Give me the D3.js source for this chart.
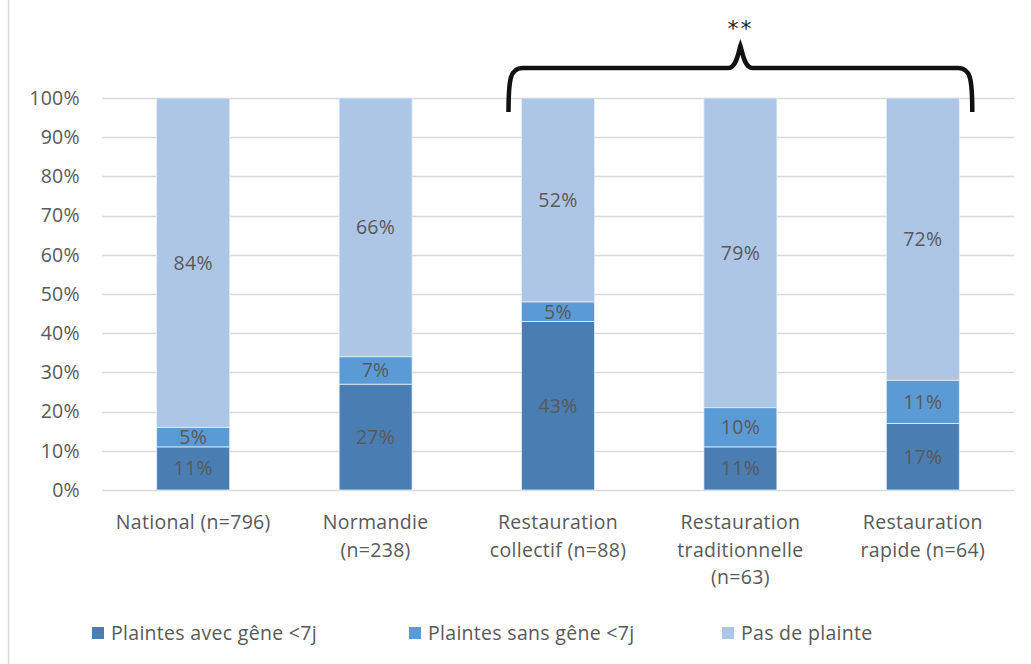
<!DOCTYPE html>
<html><head><meta charset="utf-8">
<script src="https://cdn.jsdelivr.net/npm/d3@7"></script>
<style>body{margin:0;background:#fff}svg{display:block}text{font-family:"Open Sans",sans-serif;letter-spacing:0.3px}</style>
</head><body><svg id="c" width="1031" height="664"></svg>
<script>
const categories = [
  ["National (n=796)"],
  ["Normandie", "(n=238)"],
  ["Restauration", "collectif (n=88)"],
  ["Restauration", "traditionnelle", "(n=63)"],
  ["Restauration", "rapide (n=64)"]
];
const seriesNames = ["Plaintes avec gêne <7j", "Plaintes sans gêne <7j", "Pas de plainte"];
const avecGene = [11, 27, 43, 11, 17];
const sansGene = [5, 7, 5, 10, 11];
const pasPlainte = [84, 66, 52, 79, 72];
const yTicks = [0, 10, 20, 30, 40, 50, 60, 70, 80, 90, 100];
const colors = ["#4a7db2", "#5b9bd5", "#adc6e5"];
const bracketFrom = 2, bracketTo = 4, bracketLabel = "**";

const FONT = "'Open Sans', sans-serif";
const FS = "19.5px";
const svg = d3.select("#c");
const W = 1031, H = 664;
const x = d3.scaleBand().domain(d3.range(categories.length)).range([102, 1014]).paddingInner(0.6).paddingOuter(0.3);
const y = d3.scaleLinear().domain([0, 100]).range([490, 98]);

// border
svg.append("line").attr("x1", 8.5).attr("x2", 8.5).attr("y1", 0).attr("y2", H).attr("stroke", "#d9d9d9").attr("stroke-width", 1.5);

// gridlines
svg.append("g").selectAll("line").data(yTicks).join("line")
  .attr("x1", 102).attr("x2", 1014).attr("y1", d => Math.round(y(d)) + 0.5).attr("y2", d => Math.round(y(d)) + 0.5)
  .attr("stroke", "#d9d9d9").attr("stroke-width", 1.3);

// y axis labels
const yAxis = d3.axisLeft(y).tickValues(yTicks).tickFormat(d => d + "%").tickSize(0).tickPadding(0);
const ga = svg.append("g").attr("transform", "translate(80,0)").call(yAxis);
ga.select(".domain").remove();
ga.selectAll("text").attr("fill", "#595959").style("font-size", FS).style("font-family", FONT);

// stacked data
const rows = categories.map((c, i) => ({i, a: avecGene[i], b: sansGene[i], c: pasPlainte[i]}));
const stack = d3.stack().keys(["a", "b", "c"])(rows);
const g = svg.append("g");
stack.forEach((layer, k) => {
  g.append("g").selectAll("rect").data(layer).join("rect")
    .attr("x", d => x(d.data.i)).attr("width", x.bandwidth())
    .attr("y", d => y(d[1])).attr("height", d => y(d[0]) - y(d[1]))
    .attr("fill", colors[k]).attr("stroke", "#e4ecf6").attr("stroke-width", 0.8);
  g.append("g").selectAll("text").data(layer).join("text")
    .attr("x", d => x(d.data.i) + x.bandwidth() / 2)
    .attr("y", d => y((d[0] + d[1]) / 2)).attr("dy", "0.36em")
    .attr("text-anchor", "middle").attr("fill", "#595959").style("font-size", FS)
    .text(d => (d[1] - d[0]) + "%");
});

// category labels
const cl = svg.append("g");
categories.forEach((lines, i) => {
  const t = cl.append("text").attr("text-anchor", "middle").attr("fill", "#595959").style("font-size", FS);
  lines.forEach((ln, j) => t.append("tspan").attr("x", x(i) + x.bandwidth() / 2).attr("y", 529 + j * 27.5).text(ln));
});

// legend
const legX = [92, 409, 722];
const lg = svg.append("g");
seriesNames.forEach((s, k) => {
  lg.append("rect").attr("x", legX[k]).attr("y", 627).attr("width", 12).attr("height", 12).attr("fill", colors[k]);
  lg.append("text").attr("x", legX[k] + 19).attr("y", 633).attr("dy", "0.36em").attr("fill", "#595959").style("font-size", FS).text(s);
});

// bracket
const xl = x(bracketFrom) - 13, xr = x(bracketTo) + x.bandwidth() + 13;
const xm = (x(bracketFrom + 1) + x.bandwidth() / 2);
const yt = 68, yb = 112, ytip = 46;
const path = d3.path();
path.moveTo(xl, yb);
path.bezierCurveTo(xl, yt + 10, xl + 2, yt, xl + 14, yt);
path.lineTo(xm - 12, yt);
path.bezierCurveTo(xm - 4, yt, xm - 2, ytip + 6, xm, ytip);
path.bezierCurveTo(xm + 2, ytip + 6, xm + 4, yt, xm + 12, yt);
path.lineTo(xr - 14, yt);
path.bezierCurveTo(xr - 2, yt, xr, yt + 10, xr, yb);
svg.append("path").attr("d", path.toString()).attr("fill", "none").attr("stroke", "#111").attr("stroke-width", 4.5);
svg.append("text").attr("x", xm).attr("y", 36).attr("text-anchor", "middle").attr("fill", "#222")
  .style("font-family", "'DejaVu Sans', sans-serif").style("font-size", "22px").style("letter-spacing", "2px").text(bracketLabel);
</script></body></html>
